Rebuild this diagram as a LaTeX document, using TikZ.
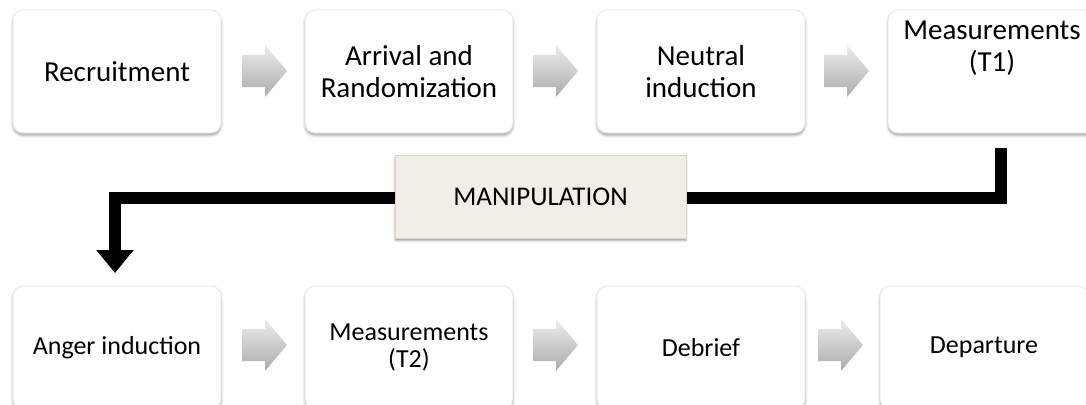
\documentclass[tikz,border=0pt]{standalone}
\usepackage{fontspec}
\setmainfont{Carlito}
\usetikzlibrary{arrows.meta,shadows.blur}
\definecolor{manip}{HTML}{F2EEE6}
\begin{document}
\begin{tikzpicture}[x=1pt,y=-1pt,
  stepbox/.style={draw=black!10, line width=0.8pt, fill=white, rounded corners=10pt,
    minimum width=208pt, minimum height=123pt, inner sep=0pt, align=center,
    blur shadow={shadow xshift=0pt, shadow yshift=-2.5pt, shadow blur radius=2.5pt, shadow opacity=35}},
  toptext/.style={font=\fontsize{29}{32}\selectfont},
  bottext/.style={font=\fontsize{26}{27}\selectfont},
  manipbox/.style={fill=manip, draw=manip!90!black, line width=0.3pt,
    minimum width=291pt, minimum height=83pt, inner sep=0pt,
    font=\fontsize{27}{30}\selectfont,
    blur shadow={shadow xshift=0pt, shadow yshift=-2.5pt, shadow blur radius=2pt, shadow opacity=40}},
  bigarrow/.style={line width=12pt, black, line join=miter, -{Triangle[width=36pt,length=23pt]}},
  grayarrow/.pic={\shade[top color=black!7, bottom color=black!33]
    (0,-16) -- (23,-16) -- (23,-26) -- (45,0) -- (23,26) -- (23,16) -- (0,16) -- cycle;}
]
\useasboundingbox (0,0) rectangle (1086,404);

% top row
\node[stepbox, toptext] (rec) at (117,71.5) {Recruitment};
\node[stepbox, toptext] (arr) at (409,71.5) {Arrival and\\Randomization};
\node[stepbox, toptext] (neu) at (701,71.5) {Neutral\\induction};
\node[stepbox] (m1) at (992,71.5) {};
\node[toptext, align=center, inner sep=0pt] (m1t) at (992,48) {Measurements\\(T1)};

\pic at (242,71) {grayarrow};
\pic at (533,71) {grayarrow};
\pic at (824,71) {grayarrow};

% connector
\coordinate (c1) at (1001,148);
\coordinate (c2) at (1001,198);
\coordinate (c3) at (115,198);
\coordinate (c4) at (115,273);
\draw[bigarrow] (c1) -- (c2) -- (c3) -- (c4);
\node[manipbox] (man) at (540.5,196.5) {MANIPULATION};

% bottom row
\node[stepbox, bottext] (ang) at (117,347.5) {Anger induction};
\node[stepbox, bottext] (m2) at (409,347.5) {Measurements\\(T2)};
\node[stepbox, bottext] (deb) at (701,347.5) {Debrief};
\node[stepbox, bottext] (dep) at (984,347.5) {Departure};

\pic at (242,345) {grayarrow};
\pic at (533,345) {grayarrow};
\pic at (818,345) {grayarrow};
\end{tikzpicture}
\end{document}
